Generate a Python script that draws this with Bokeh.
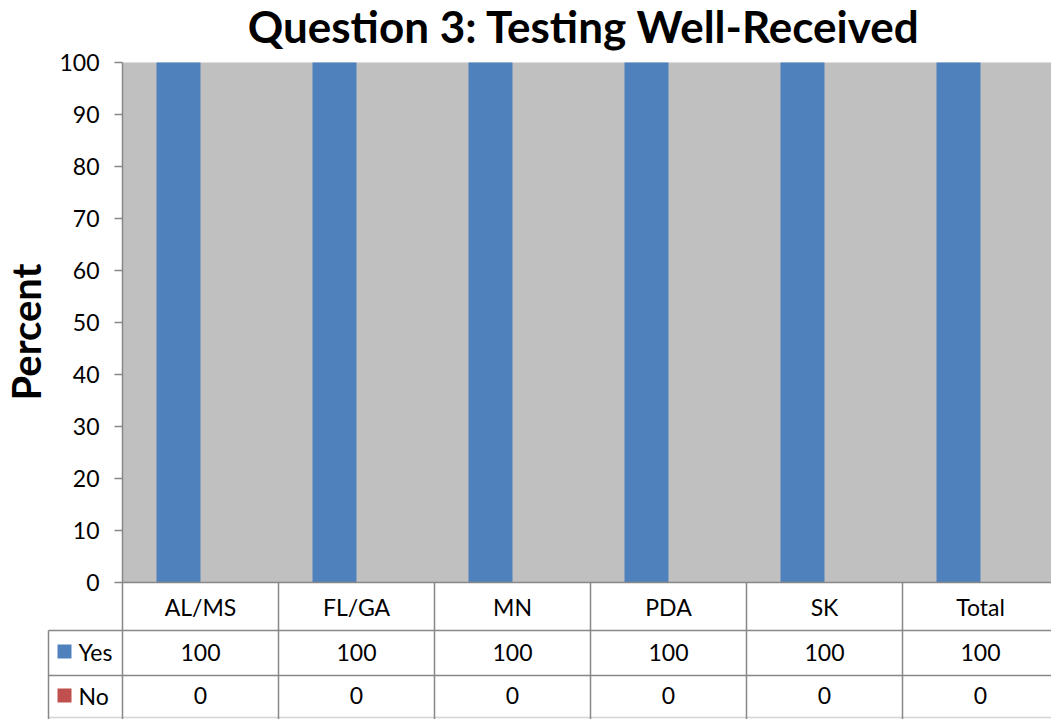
import math
from bokeh.plotting import figure
from bokeh.models import Range1d, FixedTicker
from bokeh.core.properties import value
from bokeh.embed import file_html
from bokeh.resources import INLINE

# ---------------- data ----------------
categories = ["AL/MS", "FL/GA", "MN", "PDA", "SK", "Total"]
yes_values = [100, 100, 100, 100, 100, 100]
no_values = [0, 0, 0, 0, 0, 0]
series_names = ["Yes", "No"]
series_colors = ["#4F81BD", "#C0504D"]
y_ticks = [0, 10, 20, 30, 40, 50, 60, 70, 80, 90, 100]
title_text = "Question 3: Testing Well-Received"
y_label = "Percent"

# ---------------- layout constants (screen px) ----------------
FONT = "Lato"
W, H = 1051, 719
CAT_PX = 156.0      # pixels per category
PX_PER_UNIT = 5.2   # pixels per percent
ZERO_Y = 582        # screen y of value 0
AXIS_X = 122        # screen x of the value axis


def dy(screen_y):
    return (ZERO_Y - screen_y) / PX_PER_UNIT


def dx(screen_x):
    return (screen_x - AXIS_X) / CAT_PX


GRID = "#878787"
n = len(categories)
bar_w = 44 / CAT_PX
yes_x = [i + 56 / CAT_PX for i in range(n)]
no_x = [i + 100 / CAT_PX for i in range(n)]
y_bottom = dy(H)

p = figure(width=W, height=H, output_backend="svg", toolbar_location=None,
           x_range=Range1d(dx(0), dx(W)), y_range=Range1d(y_bottom, dy(0)),
           min_border_left=0, min_border_top=0, min_border_right=0,
           min_border_bottom=0, x_axis_location=None,
           background_fill_color="white", border_fill_color="white",
           outline_line_color=None)
p.grid.visible = False

# value axis drawn at x = 0 (left edge of plot area)
ax = p.yaxis[0]
ax.fixed_location = 0
ax.bounds = (y_bottom, 100)
ax.ticker = FixedTicker(ticks=y_ticks)
ax.minor_tick_line_color = None
ax.major_tick_in = 0
ax.major_tick_out = 8
ax.axis_line_color = GRID
ax.axis_line_width = 1.5
ax.major_tick_line_color = GRID
ax.major_tick_line_width = 1.5
ax.major_label_text_font = FONT
ax.major_label_text_font_size = "23px"
ax.major_label_text_color = "black"
ax.major_label_standoff = 15

# gray plot background (0..100)
p.quad(left=0, right=n, bottom=0, top=100, fill_color="#C0C0C0", line_color=None, level="underlay")

# bars
p.vbar(x=yes_x, top=yes_values, width=bar_w, fill_color=series_colors[0], line_color=None)
p.vbar(x=no_x, top=no_values, width=bar_w, fill_color=series_colors[1], line_color=None)

# title and axis title
p.text(x=[dx(583.5)], y=[dy(25.5)], text=[title_text], text_align="center",
       text_baseline="middle", text_font=value(FONT), text_font_size=value("44px"),
       text_font_style="bold", text_color="black")
p.text(x=[dx(25.5)], y=[dy(331.5)], text=[y_label], angle=math.pi / 2, text_align="center",
       text_baseline="middle", text_font=value(FONT), text_font_size=value("40px"),
       text_font_style="bold", text_color="black")

# data table grid
p.segment(x0=[0], y0=[0], x1=[dx(W)], y1=[0], line_color=GRID, line_width=1.5)
p.segment(x0=[dx(48)] * 2, y0=[dy(630), dy(675)], x1=[dx(W)] * 2, y1=[dy(630), dy(675)],
          line_color=GRID, line_width=1.5)
p.segment(x0=[dx(48)], y0=[dy(717)], x1=[dx(W)], y1=[dy(717)], line_color="#D4D4D4", line_width=1.5)
p.segment(x0=list(range(1, n)), y0=[0] * (n - 1), x1=list(range(1, n)), y1=[y_bottom] * (n - 1),
          line_color=GRID, line_width=1.5)
p.segment(x0=[dx(48)], y0=[dy(630)], x1=[dx(48)], y1=[y_bottom], line_color=GRID, line_width=1.5)

# table texts
centers = [i + 0.5 for i in range(n)]
for texts, sy in ((categories, 606), ([str(v) for v in yes_values], 652), ([str(v) for v in no_values], 695)):
    p.text(x=centers, y=[dy(sy)] * n, text=texts, text_align="center",
           text_baseline="middle", text_font=value(FONT), text_font_size=value("23px"),
           text_color="black")

# legend keys in the table
key_mid = [651, 695]
p.quad(left=[dx(57)] * 2, right=[dx(71)] * 2,
       top=[dy(m - 7) for m in key_mid], bottom=[dy(m + 7) for m in key_mid],
       fill_color=series_colors, line_color=None)
p.text(x=[dx(78)] * 2, y=[dy(m) for m in key_mid], text=series_names, text_align="left",
       text_baseline="middle", text_font=value(FONT), text_font_size=value("23px"),
       text_color="black")

open("out.html", "w").write(file_html(p, INLINE))
